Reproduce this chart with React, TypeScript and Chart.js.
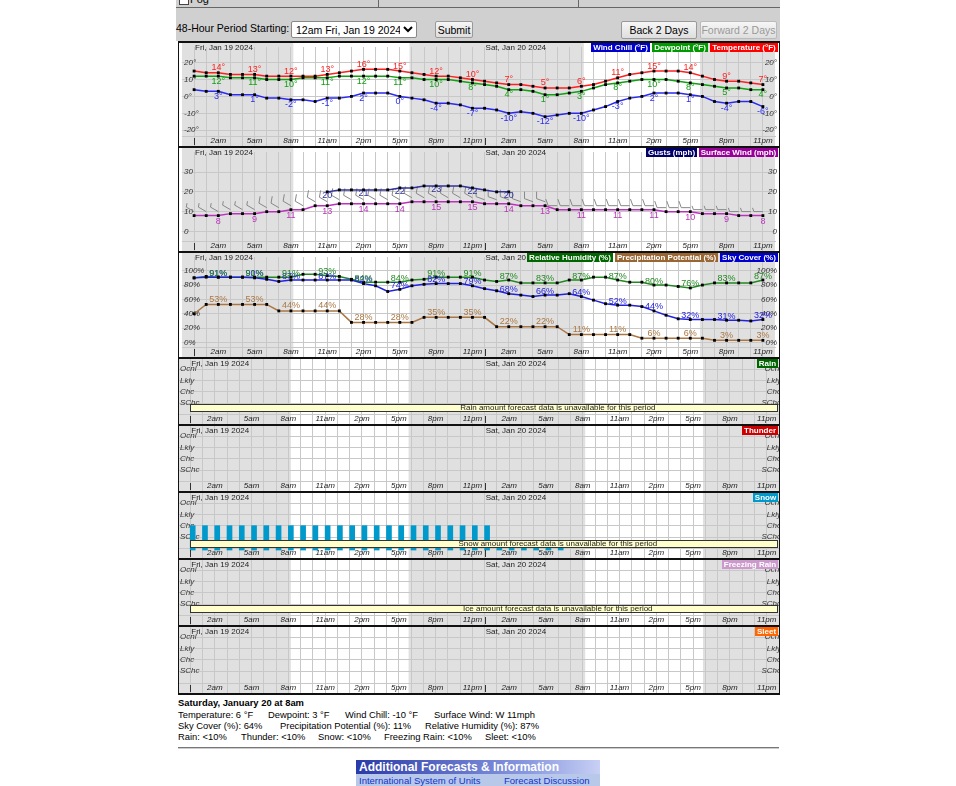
import React, { useEffect, useRef } from "react";
import { Chart, registerables } from "chart.js";

Chart.register(...registerables);

const FONT = '"Liberation Sans", Arial, sans-serif';

// ---------------- time axis ----------------
const HOURS = [0, 1, 2, 3, 4, 5, 6, 7, 8, 9, 10, 11, 12, 13, 14, 15, 16, 17, 18, 19, 20, 21, 22, 23,
  24, 25, 26, 27, 28, 29, 30, 31, 32, 33, 34, 35, 36, 37, 38, 39, 40, 41, 42, 43, 44, 45, 46, 47];
const LABEL_HOURS = [2, 5, 8, 11, 14, 17, 20, 23, 26, 29, 32, 35, 38, 41, 44, 47];
const HOUR_TICK_LABELS = ["2am", "5am", "8am", "11am", "2pm", "5pm", "8pm", "11pm",
  "2am", "5am", "8am", "11am", "2pm", "5pm", "8pm", "11pm"];
const DAY_START_HOURS = [0, 24];
const DAY_LABELS = ["Fri, Jan 19 2024", "Sat, Jan 20 2024"];
const SUNRISE_HOURS = [8.2, 32.2];
const SUNSET_HOURS = [17.8, 41.8];

// ---------------- series ----------------
const temperature = [15, 14, 14, 13, 13, 13, 12, 12, 12, 12, 12, 13, 14, 15, 16, 16, 16, 15, 14, 13, 12, 12, 11, 10,
  9, 8, 7, 7, 6, 5, 5, 5, 6, 7, 9, 11, 13, 14, 15, 15, 15, 14, 12, 10, 9, 9, 8, 7];
const dewpoint = [12, 12, 12, 11, 11, 11, 10, 10, 10, 11, 11, 11, 12, 12, 12, 12, 12, 11, 11, 10, 10, 10, 9, 8,
  7, 6, 4, 4, 3, 1, 1, 2, 3, 5, 7, 8, 9, 10, 10, 10, 9, 8, 7, 6, 5, 5, 4, 4];
const windChill = [4, 3, 3, 1, 1, 1, -1, -1, -2, -2, -3, -1, -1, 0, 2, 2, 2, 0, -1, -2, -4, -4, -5, -7,
  -7, -8, -10, -9, -10, -12, -11, -10, -10, -8, -6, -3, -1, 0, 2, 2, 2, 1, 0, -3, -4, -3, -3, -6];
const surfaceWind = [8, 8, 8, 9, 9, 9, 10, 10, 11, 11, 13, 13, 14, 14, 14, 14, 14, 14, 15, 15, 15, 15, 15, 15,
  14, 14, 14, 13, 13, 13, 11, 11, 11, 11, 11, 11, 11, 11, 11, 10, 10, 10, 9, 9, 9, 8, 8, 8];
const gusts = [null, null, null, null, null, null, null, null, null, null, null, 20, 21, 21, 21, 21, 21, 22, 22, 23, 23, 23, 23, 22,
  21, 20, 20, null, null, null, null, null, null, null, null, null, null, null, null, null, null, null, null, null, null, null, null, null];
const windDirection = [300, 300, 300, 300, 300, 300, 300, 300, 300, 300, 300, 300, 300, 300, 300, 300, 300, 300, 300, 300, 300, 300, 300, 300,
  290, 290, 290, 290, 290, 290, 270, 270, 270, 270, 270, 270, 270, 270, 270, 270, 270, 270, 270, 270, 270, 270, 270, 270];
const relativeHumidity = [90, 92, 91, 91, 91, 91, 91, 91, 91, 95, 95, 93, 92, 88, 84, 84, 84, 84, 87, 88, 91, 91, 91, 91,
  87, 85, 87, 83, 83, 83, 83, 87, 87, 91, 91, 87, 84, 84, 80, 80, 78, 76, 80, 83, 83, 83, 83, 87];
const skyCover = [90, 91, 91, 91, 91, 90, 88, 85, 87, 87, 87, 87, 87, 87, 82, 79, 71, 74, 79, 81, 82, 82, 82, 79,
  75, 72, 68, 66, 64, 66, 66, 68, 64, 59, 54, 52, 52, 50, 44, 38, 33, 32, 32, 32, 31, 31, 30, 32];
const precipPotential = [40, 53, 53, 53, 53, 53, 53, 44, 44, 44, 44, 44, 44, 28, 28, 28, 28, 28, 28, 35, 35, 35, 35, 35,
  35, 22, 22, 22, 22, 22, 22, 11, 11, 11, 11, 11, 11, 6, 6, 6, 6, 6, 6, 3, 3, 3, 3, 3];
// snow chance on the categorical scale (1=SChc, 2=Chc, 3=Lkly, 4=Ocnl)
const snowLevel = [2, 2, 2, 2, 2, 2, 2, 2, 2, 2, 2, 2, 2, 2, 2, 2, 2, 2, 2, 2, 2, 2, 2, 2,
  2, 0.3, 0.3, 0.3, 0.3, 0.3, 0.3, null, null, null, null, null, null, null, null, null, null, null, null, null, null, null, null, null];
const LEVEL_NAMES = ["SChc", "Chc", "Lkly", "Ocnl"];
const LEVEL_VALUES = [1, 2, 3, 4];

// ---------------- style ----------------
const X_AXIS_H = 10;
const CANVAS_LEFT = 178;
const CANVAS_W = 601;
const GRID = "#c8c8c8";
const NIGHT = "#e0e0e0";
const BAR_SHIFT = 0.2;

function rangeFor(v1: number, o1: number, v2: number, o2: number, h: number) {
  const ppu = (o2 - o1) / (v1 - v2);
  return { min: v1 - (h - o1) / ppu, max: v1 + o1 / ppu };
}

function pts(arr: (number | null)[], shift = 0) {
  const out: { x: number; y: number }[] = [];
  arr.forEach((v, i) => {
    if (v !== null && v !== undefined) out.push({ x: HOURS[i] + shift, y: v });
  });
  return out;
}

function lineDs(label: string, arr: (number | null)[], color: string, lab: any) {
  return {
    type: "line",
    label,
    data: pts(arr),
    borderColor: color,
    borderWidth: 1.5,
    pointStyle: "rect",
    pointRadius: 2,
    pointBackgroundColor: "#000",
    pointBorderWidth: 0,
    tension: 0,
    valueLabels: lab,
  };
}

const zeroPad = (s: any) => {
  s.paddingTop = 0;
  s.paddingBottom = 0;
  s.paddingLeft = 0;
  s.paddingRight = 0;
};

// ---------------- plugins ----------------
const shadePlugin = {
  id: "shade",
  beforeDraw(chart: any) {
    const { ctx, width, height } = chart;
    const x = chart.scales.x;
    ctx.save();
    ctx.fillStyle = "#fff";
    ctx.fillRect(0, 0, width, height);
    ctx.fillStyle = NIGHT;
    const edges = [-1, ...SUNRISE_HOURS.flatMap((r, i) => [r, SUNSET_HOURS[i]]), 48];
    for (let i = 0; i < edges.length; i += 2) {
      const x0 = x.getPixelForValue(edges[i]);
      const x1 = x.getPixelForValue(edges[i + 1]);
      ctx.fillRect(x0, 0, x1 - x0, height);
    }
    ctx.restore();
  },
  afterDraw(chart: any) {
    const { ctx, chartArea } = chart;
    const x = chart.scales.x;
    ctx.save();
    ctx.strokeStyle = "#333";
    ctx.lineWidth = 1;
    DAY_START_HOURS.forEach((h) => {
      const px = Math.round(x.getPixelForValue(h)) + 0.5;
      ctx.beginPath();
      ctx.moveTo(px, chartArea.bottom + 2);
      ctx.lineTo(px, chartArea.bottom + 9);
      ctx.stroke();
    });
    ctx.font = "8px " + FONT;
    ctx.fillStyle = "#222";
    ctx.textBaseline = "middle";
    ctx.textAlign = "left";
    DAY_START_HOURS.forEach((h, i) => {
      ctx.fillText(DAY_LABELS[i], x.getPixelForValue(h) + 1, 5);
    });
    ctx.restore();
  },
};

const valueLabelPlugin = {
  id: "valueLabels",
  afterDatasetsDraw(chart: any) {
    const { ctx } = chart;
    const x = chart.scales.x;
    const y = chart.scales.y;
    chart.data.datasets.forEach((ds: any) => {
      const vl = ds.valueLabels;
      if (!vl) return;
      ctx.save();
      ctx.font = "9px " + FONT;
      ctx.fillStyle = vl.color;
      ctx.textAlign = "center";
      ctx.textBaseline = "middle";
      ds.data.forEach((p: any) => {
        if (LABEL_HOURS.indexOf(p.x) >= 0) {
          ctx.fillText(String(p.y) + vl.suffix, x.getPixelForValue(p.x), y.getPixelForValue(p.y) + vl.dy);
        }
      });
      ctx.restore();
    });
  },
};

const bandPlugin = {
  id: "band",
  afterDatasetsDraw(chart: any, _a: any, opts: any) {
    if (!opts || !opts.text) return;
    const { ctx, chartArea } = chart;
    const x = chart.scales.x;
    const x0 = Math.round(x.getPixelForValue(0)) + 0.5;
    const x1 = chartArea.right - 1.5;
    ctx.save();
    ctx.fillStyle = "#ffffcc";
    ctx.fillRect(x0, opts.top, x1 - x0, 7);
    ctx.strokeStyle = "#333";
    ctx.lineWidth = 1;
    ctx.strokeRect(x0, opts.top + 0.5, x1 - x0, 7);
    ctx.fillStyle = "#222";
    ctx.font = "8px " + FONT;
    ctx.textAlign = "center";
    ctx.textBaseline = "middle";
    ctx.fillText(opts.text, chartArea.left + chartArea.width * 0.632, opts.top + 4);
    ctx.restore();
  },
};

const barbPlugin = {
  id: "barbs",
  beforeDatasetsDraw(chart: any, _a: any, opts: any) {
    if (!opts || !opts.on) return;
    const { ctx } = chart;
    const x = chart.scales.x;
    const y = chart.scales.y;
    ctx.save();
    ctx.strokeStyle = "#888";
    ctx.lineWidth = 1;
    HOURS.forEach((h, i) => {
      const px = x.getPixelForValue(h);
      const py = y.getPixelForValue(surfaceWind[i]) - 4;
      const a = (windDirection[i] * Math.PI) / 180;
      const sx = Math.sin(a), sy = -Math.cos(a);
      const ex = px + sx * 9, ey = py + sy * 9;
      const b = a + (70 * Math.PI) / 180;
      const bl = surfaceWind[i] >= 10 ? 7 : 4;
      ctx.beginPath();
      ctx.moveTo(px, py);
      ctx.lineTo(ex, ey);
      ctx.lineTo(ex + Math.sin(b) * bl, ey - Math.cos(b) * bl);
      ctx.stroke();
    });
    ctx.restore();
  },
};

const legendPlugin = {
  id: "boxLegend",
  afterDraw(chart: any, _a: any, opts: any) {
    if (!opts || !opts.items) return;
    const { ctx } = chart;
    ctx.save();
    ctx.font = "bold 8px " + FONT;
    ctx.textBaseline = "middle";
    ctx.textAlign = "center";
    let right = chart.width - 1;
    for (let i = opts.items.length - 1; i >= 0; i--) {
      const it = opts.items[i];
      const w = Math.round(ctx.measureText(it.text).width + 4);
      ctx.fillStyle = it.color;
      ctx.fillRect(right - w, 0, w, 9);
      ctx.fillStyle = "#fff";
      ctx.fillText(it.text, right - w / 2, 5);
      right -= w + 2;
    }
    ctx.restore();
  },
};

// ---------------- panels ----------------
type PanelDef = {
  key: string;
  top: number;
  height: number;
  anchor: [number, number, number, number];
  yTicks: number[];
  yFmt: (v: number) => string;
  legend: { text: string; color: string }[];
  datasets: () => any[];
  band?: { text: string; top: number };
  barbs?: boolean;
};

const catFmt = (v: number) => LEVEL_NAMES[LEVEL_VALUES.indexOf(v)] || "";

const PANELS: PanelDef[] = [
  {
    key: "temp", top: 43, height: 103, anchor: [20, 16.3, -20, 87],
    yTicks: [-20, -10, 0, 10, 20], yFmt: (v) => v + "°",
    legend: [
      { text: "Wind Chill (°F)", color: "#0000cc" },
      { text: "Dewpoint (°F)", color: "#009900" },
      { text: "Temperature (°F)", color: "#ff0000" },
    ],
    datasets: () => [
      lineDs("Wind Chill", windChill, "#2b2bf0", { color: "#2b2bf0", suffix: "°", dy: 5 }),
      lineDs("Dewpoint", dewpoint, "#11a011", { color: "#11a011", suffix: "°", dy: 5 }),
      lineDs("Temperature", temperature, "#ff2020", { color: "#ff2020", suffix: "°", dy: -5 }),
    ],
  },
  {
    key: "wind", top: 148, height: 103, anchor: [30, 21, 0, 83],
    yTicks: [0, 10, 20, 30], yFmt: (v) => String(v),
    legend: [
      { text: "Gusts (mph)", color: "#000066" },
      { text: "Surface Wind (mph)", color: "#990099" },
    ],
    barbs: true,
    datasets: () => [
      lineDs("Surface Wind", surfaceWind, "#bb33bb", { color: "#bb33bb", suffix: "", dy: 6 }),
      lineDs("Gusts", gusts, "#333399", { color: "#333399", suffix: "", dy: 4 }),
    ],
  },
  {
    key: "hum", top: 253, height: 104, anchor: [100, 14.3, 0, 89.3],
    yTicks: [0, 20, 40, 60, 80, 100], yFmt: (v) => v + "%",
    legend: [
      { text: "Relative Humidity (%)", color: "#006600" },
      { text: "Precipitation Potential (%)", color: "#996633" },
      { text: "Sky Cover (%)", color: "#0000cc" },
    ],
    datasets: () => [
      lineDs("Precipitation Potential", precipPotential, "#aa7744", { color: "#aa7744", suffix: "%", dy: -5 }),
      lineDs("Sky Cover", skyCover, "#2222dd", { color: "#2222dd", suffix: "%", dy: -4 }),
      lineDs("Relative Humidity", relativeHumidity, "#228822", { color: "#228822", suffix: "%", dy: -4 }),
    ],
  },
  {
    key: "rain", top: 359, height: 65, anchor: [4, 10, 1, 44],
    yTicks: LEVEL_VALUES, yFmt: catFmt,
    legend: [{ text: "Rain", color: "#006600" }],
    band: { text: "Rain amount forecast data is unavailable for this period", top: 45 },
    datasets: () => [],
  },
  {
    key: "thunder", top: 426, height: 65, anchor: [4, 10, 1, 44],
    yTicks: LEVEL_VALUES, yFmt: catFmt,
    legend: [{ text: "Thunder", color: "#cc0000" }],
    datasets: () => [],
  },
  {
    key: "snow", top: 493, height: 65, anchor: [4, 10, 1, 44],
    yTicks: LEVEL_VALUES, yFmt: catFmt,
    legend: [{ text: "Snow", color: "#0099cc" }],
    band: { text: "Snow amount forecast data is unavailable for this period", top: 47 },
    datasets: () => [
      {
        type: "bar",
        label: "Snow",
        data: pts(snowLevel, BAR_SHIFT),
        backgroundColor: "#0099cc",
        barThickness: 5,
        borderWidth: 0,
        base: -0.15,
        clip: false,
      },
    ],
  },
  {
    key: "frz", top: 560, height: 65, anchor: [4, 10, 1, 44],
    yTicks: LEVEL_VALUES, yFmt: catFmt,
    legend: [{ text: "Freezing Rain", color: "#cc99cc" }],
    band: { text: "Ice amount forecast data is unavailable for this period", top: 45 },
    datasets: () => [],
  },
  {
    key: "sleet", top: 627, height: 66, anchor: [4, 10, 1, 44],
    yTicks: LEVEL_VALUES, yFmt: catFmt,
    legend: [{ text: "Sleet", color: "#ff6600" }],
    datasets: () => [],
  },
];

function makeConfig(p: PanelDef): any {
  const { min, max } = rangeFor(p.anchor[0], p.anchor[1], p.anchor[2], p.anchor[3], p.height - X_AXIS_H);
  const yAxis = (position: string) => ({
    type: "linear",
    position,
    min,
    max,
    afterBuildTicks: (s: any) => {
      s.ticks = p.yTicks.map((v) => ({ value: v }));
    },
    afterFit: (s: any) => {
      s.width = 0;
      zeroPad(s);
    },
    grid: { display: position === "left", color: GRID, drawTicks: false },
    border: { display: false },
    ticks: {
      mirror: true,
      padding: 2,
      color: "#333",
      font: { size: 8, style: "italic", family: FONT },
      callback: (v: number) => p.yFmt(v),
    },
  });
  return {
    type: "line",
    data: { datasets: p.datasets() },
    options: {
      responsive: false,
      animation: false,
      events: [],
      layout: { padding: 0 },
      plugins: {
        legend: { display: false },
        tooltip: { enabled: false },
        boxLegend: { items: p.legend },
        band: p.band || {},
        barbs: { on: !!p.barbs },
      },
      scales: {
        x: {
          type: "linear",
          min: -1,
          max: 48,
          offset: false,
          afterBuildTicks: (s: any) => {
            s.ticks = HOURS.map((v) => ({ value: v }));
          },
          afterFit: (s: any) => {
            s.height = X_AXIS_H;
            zeroPad(s);
          },
          grid: { color: GRID, drawTicks: true, tickLength: X_AXIS_H, offset: false },
          border: { display: true, color: GRID },
          ticks: {
            autoSkip: false,
            maxRotation: 0,
            padding: -X_AXIS_H,
            color: "#222",
            font: { size: 8, style: "italic", family: FONT },
            callback: (v: number) => {
              const i = LABEL_HOURS.indexOf(v);
              return i >= 0 ? HOUR_TICK_LABELS[i] : "";
            },
          },
        },
        y: yAxis("left"),
        y2: yAxis("right"),
      },
    },
    plugins: [shadePlugin, barbPlugin, valueLabelPlugin, bandPlugin, legendPlugin],
  };
}

function PanelChart({ def }: { def: PanelDef }) {
  const ref = useRef<HTMLCanvasElement>(null);
  useEffect(() => {
    const chart = new Chart(ref.current as HTMLCanvasElement, makeConfig(def));
    return () => chart.destroy();
  }, [def]);
  return (
    <canvas
      ref={ref}
      width={CANVAS_W}
      height={def.height}
      style={{ position: "absolute", left: CANVAS_LEFT, top: def.top, width: CANVAS_W, height: def.height }}
    />
  );
}

const BORDER_TOPS = [41, 146, 251, 357, 424, 491, 558, 625, 693];

const abs = (o: any) => ({ position: "absolute" as const, ...o });

const DETAIL_TITLE = "Saturday, January 20 at 8am";
const DETAIL_ROWS: [number, string][][] = [
  [[178, "Temperature: 6 °F"], [268, "Dewpoint: 3 °F"], [345, "Wind Chill: -10 °F"], [434, "Surface Wind: W 11mph"]],
  [[178, "Sky Cover (%): 64%"], [280, "Precipitation Potential (%): 11%"], [425, "Relative Humidity (%): 87%"]],
  [[178, "Rain: <10%"], [241, "Thunder: <10%"], [318, "Snow: <10%"], [384, "Freezing Rain: <10%"], [485, "Sleet: <10%"]],
];

export default function App() {
  const btn: any = {
    position: "absolute",
    fontFamily: FONT,
    fontSize: 10.5,
    padding: 0,
    border: "1px solid #999",
    borderRadius: 2,
    background: "linear-gradient(#f6f6f6,#dedede)",
    color: "#000",
    whiteSpace: "nowrap",
  };
  return (
    <div style={{ position: "absolute", left: 0, top: 0, width: 956, height: 786, background: "#fff", overflow: "hidden", fontFamily: FONT }}>
      {/* header */}
      <div style={abs({ left: 176, top: 0, width: 604, height: 41, background: "#d0d0d0" })} />
      <div style={abs({ left: 176, top: 0, width: 604, height: 7, borderBottom: "1px solid #666" })} />
      <div style={abs({ left: 378, top: 0, width: 1, height: 8, background: "#666" })} />
      <div style={abs({ left: 578, top: 0, width: 1, height: 8, background: "#666" })} />
      <div style={abs({ left: 179, top: -5, width: 8, height: 8, border: "1px solid #444", background: "#fff" })} />
      <div style={abs({ left: 190, top: -7, fontSize: 11, color: "#000" })}>Fog</div>
      <div style={abs({ left: 176, top: 22, fontSize: 10.5, color: "#000", whiteSpace: "nowrap" })}>48-Hour Period Starting:</div>
      <select
        defaultValue="a"
        style={abs({ left: 291, top: 21, width: 126, height: 17, fontSize: 10.5, fontFamily: FONT, padding: 0, border: "1px solid #888", borderRadius: 2, background: "#fff" })}
      >
        <option value="a">12am Fri, Jan 19 2024</option>
      </select>
      <button style={{ ...btn, left: 435, top: 21, width: 38, height: 17 }}>Submit</button>
      <button style={{ ...btn, left: 621, top: 21, width: 76, height: 18 }}>Back 2 Days</button>
      <button disabled style={{ ...btn, left: 700, top: 21, width: 77, height: 18, color: "#999", border: "1px solid #bbb" }}>Forward 2 Days</button>

      {/* chart panels */}
      {PANELS.map((p) => (
        <PanelChart key={p.key} def={p} />
      ))}
      {BORDER_TOPS.map((t) => (
        <div key={t} style={abs({ left: 178, top: t, width: 602, height: 2, background: "#111" })} />
      ))}
      <div style={abs({ left: 178, top: 41, width: 1, height: 654, background: "#111" })} />
      <div style={abs({ left: 779, top: 41, width: 1, height: 654, background: "#111" })} />

      {/* details */}
      <div style={abs({ left: 178, top: 697, fontSize: 9.4, lineHeight: "11.4px", fontWeight: "bold", color: "#000", whiteSpace: "nowrap" })}>
        {DETAIL_TITLE}
      </div>
      {DETAIL_ROWS.map((row, r) =>
        row.map(([x, t]) => (
          <div key={r + t} style={abs({ left: x, top: 708.5 + r * 11.4, fontSize: 9.4, lineHeight: "11.4px", color: "#000", whiteSpace: "nowrap" })}>
            {t}
          </div>
        ))
      )}
      <div style={abs({ left: 178, top: 747, width: 601, height: 1, background: "#777" })} />
      <div style={abs({ left: 178, top: 748, width: 601, height: 1, background: "#ccc" })} />

      <div
        style={abs({
          left: 356, top: 760, width: 244, height: 14,
          background: "linear-gradient(to right, #2a3aa8, #8898e0 70%, #c8d0f4)",
          color: "#fff", fontWeight: "bold", fontSize: 12, lineHeight: "14px", paddingLeft: 3, boxSizing: "border-box", whiteSpace: "nowrap",
        })}
      >
        Additional Forecasts &amp; Information
      </div>
      <div style={abs({ left: 356, top: 774, width: 244, height: 12, background: "#b8c8e8", fontSize: 9.5, lineHeight: "13px", whiteSpace: "nowrap" })}>
        <span style={abs({ left: 3, color: "#1133cc" })}>International System of Units</span>
        <span style={abs({ left: 148, color: "#1133cc" })}>Forecast Discussion</span>
      </div>
    </div>
  );
}
